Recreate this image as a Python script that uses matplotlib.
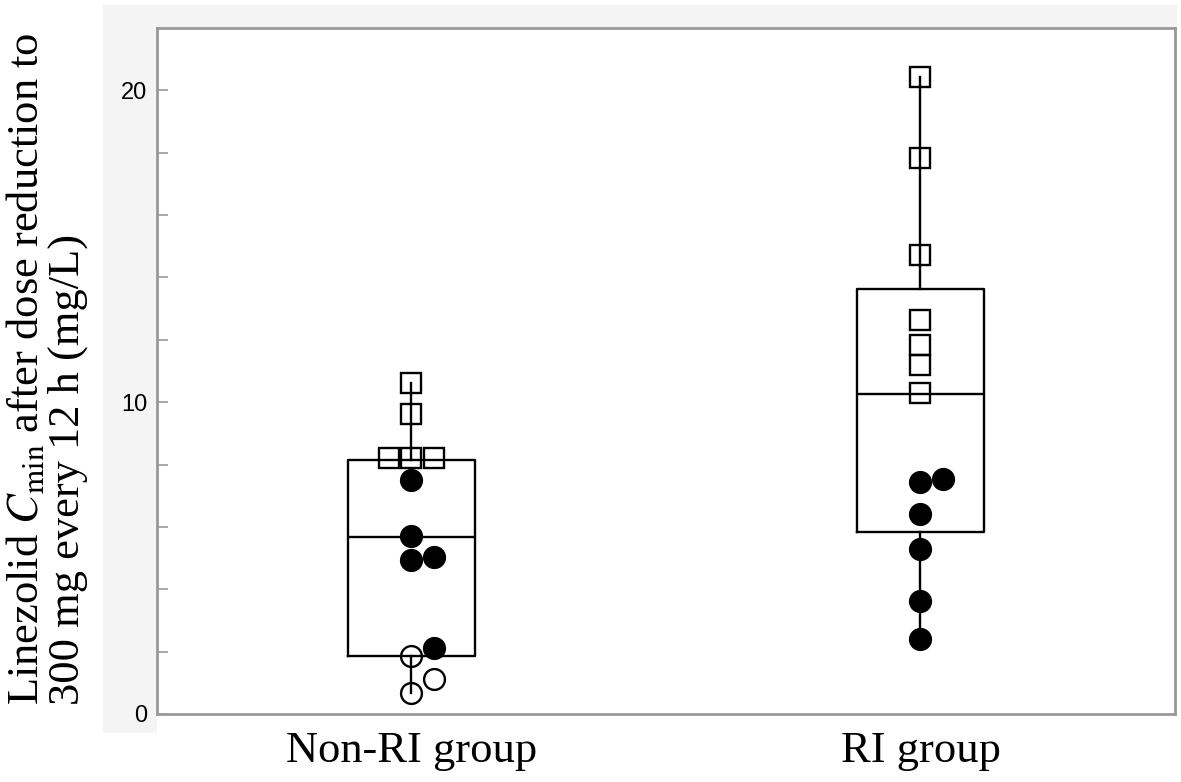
import numpy as np
import matplotlib
matplotlib.use('Agg')
import matplotlib.pyplot as plt
from matplotlib.patches import Rectangle

plt.rcParams['mathtext.fontset'] = 'stix'

# groups and box statistics
groups = ['Non-RI group', 'RI group']
positions = [0.5, 1.5]
q1 = [1.86, 5.85]
med = [5.66, 10.26]
q3 = [8.13, 13.63]
whislo = [0.68, 2.42]
whishi = [10.61, 20.44]

# individual patients: value, column offset (in marker widths)
nonri_sq = [10.61, 9.61, 8.22, 8.22, 8.22]
nonri_sq_off = [0, 0, -1, 0, 1]
nonri_fill = [7.51, 5.72, 4.94, 5.03, 2.11]
nonri_fill_off = [0, 0, 0, 1, 1]
nonri_open = [1.86, 0.68, 1.11]
nonri_open_off = [0, 0, 1]

ri_sq = [20.44, 17.84, 14.73, 12.64, 11.83, 11.19, 10.30]
ri_sq_off = [0, 0, 0, 0, 0, 0, 0]
ri_fill = [7.44, 7.52, 6.42, 5.30, 3.61, 2.42]
ri_fill_off = [0, 1, 0, 0, 0, 0]

step = 0.044
grey = '#999999'

fig = plt.figure(figsize=(11.81, 7.82), dpi=100)
# light grey strips around the plot
fig.patches.append(Rectangle((0.0872, 0.0627), 0.0457, 0.9309, transform=fig.transFigure,
                             facecolor='#f4f4f4', edgecolor='none', zorder=-1))
fig.patches.append(Rectangle((0.0872, 0.9642), 0.9094, 0.0294, transform=fig.transFigure,
                             facecolor='#f4f4f4', edgecolor='none', zorder=-1))

ax = fig.add_axes([0.1329, 0.087, 0.862, 0.8772])

stats = []
for i in range(2):
    stats.append({'med': med[i], 'q1': q1[i], 'q3': q3[i],
                  'whislo': whislo[i], 'whishi': whishi[i], 'fliers': []})
ax.bxp(stats, positions=positions, widths=0.25, showcaps=False, showfliers=False,
       boxprops=dict(color='k', linewidth=1.7),
       medianprops=dict(color='k', linewidth=1.7),
       whiskerprops=dict(color='k', linewidth=1.7))

def pts(x0, vals, offs, marker, face):
    xs = [x0 + o*step for o in offs]
    ax.plot(xs, vals, linestyle='none', marker=marker, markersize=15 if marker == 'o' else 14,
            markerfacecolor=face, markeredgecolor='k', markeredgewidth=1.7, zorder=5)

pts(positions[0], nonri_sq, nonri_sq_off, 's', 'none')
pts(positions[0], nonri_fill, nonri_fill_off, 'o', 'k')
pts(positions[0], nonri_open, nonri_open_off, 'o', 'none')
pts(positions[1], ri_sq, ri_sq_off, 's', 'none')
pts(positions[1], ri_fill, ri_fill_off, 'o', 'k')

ax.set_xlim(0, 2)
ax.set_ylim(0, 22)
ax.set_xticks(positions)
ax.set_xticklabels(groups, family='Liberation Serif', fontsize=32)
ax.tick_params(axis='x', length=0, pad=12)
ax.set_yticks([0, 10, 20])
ax.set_yticks(np.arange(2, 22, 2), minor=True)
ax.set_yticklabels(['0', '10', '20'], family='Liberation Sans', fontsize=17)
ax.tick_params(axis='y', which='both', direction='in', length=8, width=1.2,
               color=grey, pad=7)
for s in ax.spines.values():
    s.set_color(grey)
    s.set_linewidth(2)

fig.text(0.0394, 0.0985,
         'Linezolid $\\mathit{C}_{\\mathrm{min}}$ after dose reduction to\n300 mg every 12 h (mg/L)',
         rotation=90, ha='center', va='bottom', multialignment='left',
         family='Liberation Serif', fontsize=32, linespacing=1.02)

fig.savefig('out.png', dpi=100)
